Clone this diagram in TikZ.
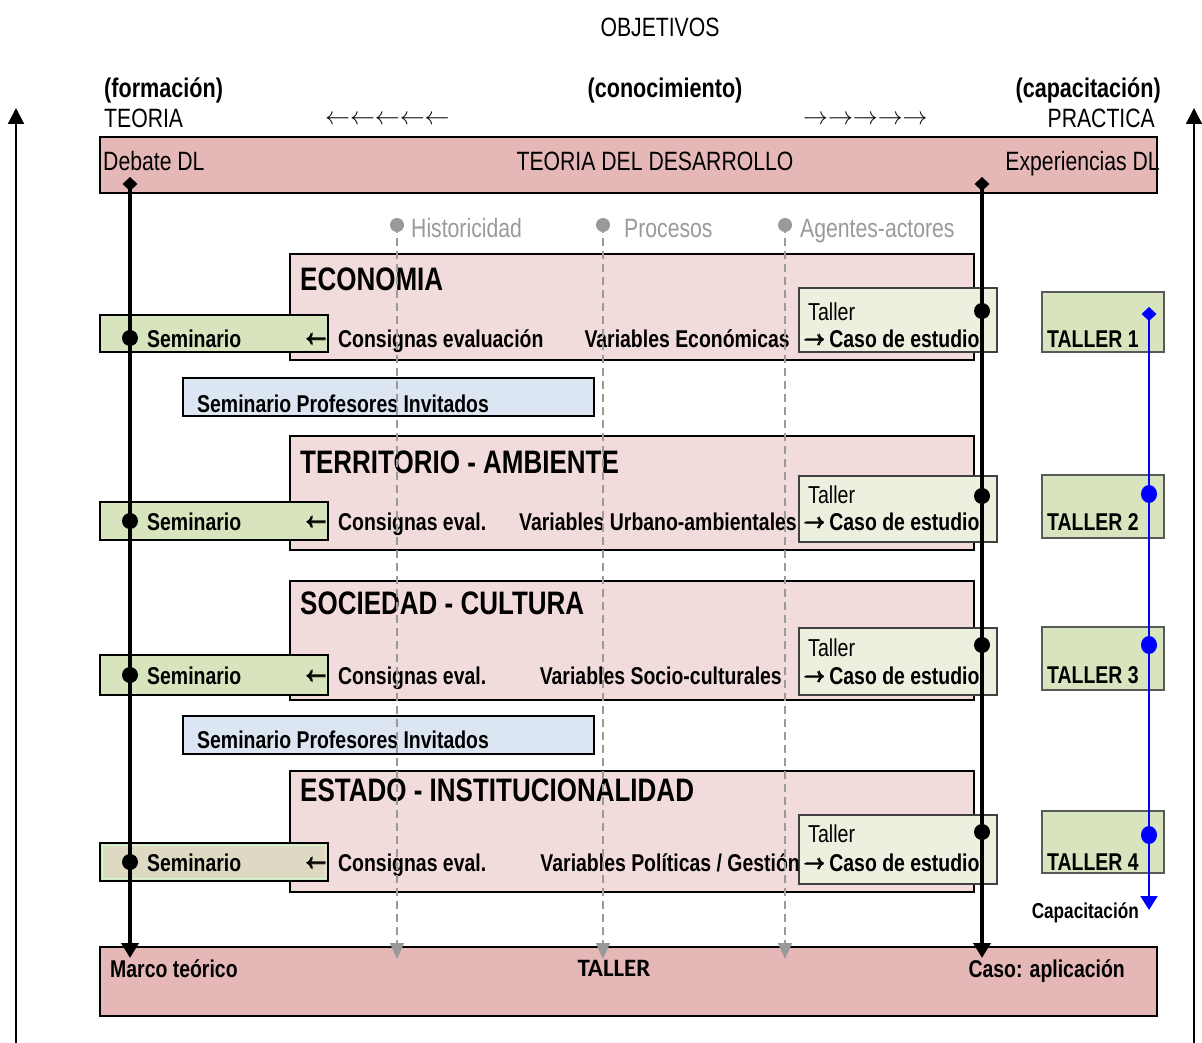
\documentclass[tikz,border=0pt]{standalone}
\usepackage{amsmath}
\usepackage{fontspec}
\setmainfont{Liberation Sans}[FakeStretch=0.8]
\newfontfamily\carl{Carlito}
\usetikzlibrary{arrows.meta}
\definecolor{barpink}{HTML}{E5B8B7}
\definecolor{blkpink}{HTML}{F2DCDB}
\definecolor{semgreen}{HTML}{D7E4BD}
\definecolor{tallight}{HTML}{EBF1DE}
\definecolor{profblue}{HTML}{DCE6F2}
\definecolor{semtan}{HTML}{DDD9C3}
\definecolor{grayc}{HTML}{9A9A9A}
\definecolor{dgray}{HTML}{404040}
\definecolor{mgray}{HTML}{595959}
\definecolor{palegreen}{HTML}{CCFFCC}
\newcommand\fsz[1]{\fontsize{#1}{#1}\selectfont}
\newcommand\thickglyph[1]{\leavevmode\rlap{#1}\kern0.7pt\rlap{#1}\kern0.7pt\rlap{#1}\raisebox{0.7pt}{\rlap{#1}}\raisebox{-0.7pt}{\rlap{#1}}\kern-1.4pt#1}
\newcommand\ra{\raisebox{2pt}{\fsz{22}\thickglyph{$\rightarrow$}}}
\newcommand\la{\fsz{22}\thickglyph{$\leftarrow$}}
\begin{document}
\begin{tikzpicture}[x=1pt,y=-1pt,
  box/.style={draw=black,line width=2pt,inner sep=0pt,outer sep=0pt,anchor=north west},
  barbox/.style={box,fill=barpink,line width=2.5pt},
  blkbox/.style={box,fill=blkpink},
  sembox/.style={box,fill=semgreen,minimum width=228pt},
  talbox/.style={box,draw=dgray,fill=tallight,minimum width=198pt},
  Tbox/.style={box,draw=mgray,fill=semgreen,minimum width=122pt},
  profbox/.style={box,fill=profblue,minimum width=411pt,minimum height=38pt},
  t/.style={inner sep=0pt,anchor=base west},
  tr/.style={inner sep=0pt,anchor=base east},
  tc/.style={inner sep=0pt,anchor=base},
  reg/.style={font=\fsz{26.5}},
  bl/.style={font=\bfseries\fsz{24.3}},
  tb/.style={font=\bfseries\fsz{27}},
  hd/.style={font=\bfseries\fsz{32.5}},
  gr/.style={font=\fsz{26.5},text=grayc},
  blkline/.style={line width=4.5pt,{Diamond[width=15pt,length=14pt]}-{Triangle[width=17pt,length=15pt]}},
  bluline/.style={blue,line width=2pt,{Diamond[width=15pt,length=14pt]}-{Triangle[width=17pt,length=14pt]}},
  dashline/.style={grayc,line width=2pt,dash pattern=on 8pt off 5pt,-{Triangle[width=14pt,length=16pt]}},
  thinarrow/.style={line width=2pt,-{Triangle[width=16pt,length=16pt]}}
]
\useasboundingbox (0,0) rectangle (1202,1043);

% ---------- bars ----------
\node[barbox,minimum width=1057pt,minimum height=56pt] (topbar) at (100,137) {};
\node[barbox,minimum width=1057pt,minimum height=69pt] (botbar) at (100,947) {};

% ---------- thematic blocks ----------
\node[blkbox,minimum width=684pt,minimum height=106pt] (eco) at (290,254) {};
\node[blkbox,minimum width=684pt,minimum height=114pt] (ter) at (290,436) {};
\node[blkbox,minimum width=684pt,minimum height=119pt] (soc) at (290,581) {};
\node[blkbox,minimum width=684pt,minimum height=121pt] (est) at (290,771) {};

% ---------- seminario boxes ----------
\node[sembox,minimum height=37pt] (sem1) at (100,315) {};
\node[sembox,minimum height=38pt] (sem2) at (100,502) {};
\node[sembox,minimum height=40pt] (sem3) at (100,655) {};
\node[sembox,fill=semtan,minimum height=38pt] (sem4) at (100,843) {};
\draw[palegreen,line width=1.5pt] (102.5,845.5) rectangle (325.5,878.5);

% ---------- taller boxes ----------
\node[talbox,minimum height=64pt] (tal1) at (799,288) {};
\node[talbox,minimum height=66pt] (tal2) at (799,476) {};
\node[talbox,minimum height=67pt] (tal3) at (799,628) {};
\node[talbox,minimum height=69pt] (tal4) at (799,815) {};

\node[Tbox,minimum height=60pt] (T1) at (1042,292) {};
\node[Tbox,minimum height=63pt] (T2) at (1042,475) {};
\node[Tbox,minimum height=63pt] (T3) at (1042,627) {};
\node[Tbox,minimum height=62pt] (T4) at (1042,811) {};

% ---------- invited professors ----------
\node[profbox] (prof1) at (183,378) {};
\node[profbox] (prof2) at (183,716) {};

% ---------- top texts ----------
\node[tc,font=\fsz{26.5}] (obj) at (660,36.5) {OBJETIVOS};
\node[t,tb] (form) at (104,98) {(formación)};
\node[tc,tb] (cono) at (665,98) {(conocimiento)};
\node[tr,tb] (capa) at (1161,98) {(capacitación)};
\node[t,reg] (teo) at (104,127.5) {TEORIA};
\node[tr,reg] (prac) at (1155,127.5) {PRACTICA};
\node[t,font=\fsz{25}] (larr) at (325,125) {$\leftarrow\leftarrow\leftarrow\leftarrow\leftarrow$};
\node[t,font=\fsz{25}] (rarr) at (803,125) {$\rightarrow\rightarrow\rightarrow\rightarrow\rightarrow$};
\node[t,reg] (debate) at (103,170.5) {Debate DL};
\node[tc,reg] (tdd) at (655,170.5) {TEORIA DEL DESARROLLO};
\node[tr,reg] (expe) at (1160,170.5) {Experiencias DL};

\node[t,gr] (hist) at (411,237.5) {Historicidad};
\node[t,gr] (proc) at (624,237.5) {Procesos};
\node[t,gr] (agen) at (800,237.5) {Agentes-actores};

% ---------- block headings ----------
\node[t,hd] (ecoh) at (300,290) {ECONOMIA};
\node[t,hd] (terh) at (300,473) {TERRITORIO - AMBIENTE};
\node[t,hd] (soch) at (300,614) {SOCIEDAD - CULTURA};
\node[t,hd] (esth) at (300,801) {ESTADO - INSTITUCIONALIDAD};

% ---------- row 1 ----------
\node[t,bl] (sem1t) at (147,347) {Seminario};
\node[tr] (sem1a) at (326,344.5) {\la};
\node[t,bl] (con1) at (338,347) {Consignas evaluación};
\node[tr,bl] (var1) at (790,347) {Variables Económicas};
\node[t,font=\fsz{24.5}] (tal1t) at (808,320) {Taller};
\node[t,bl] (caso1) at (803,347) {\ra\ Caso de estudio};
\node[t,bl] (T1t) at (1047,347) {TALLER 1};

\node[t,bl] (prof1t) at (197,412) {Seminario Profesores Invitados};

% ---------- row 2 ----------
\node[t,bl] (sem2t) at (147,530) {Seminario};
\node[tr] (sem2a) at (326,527.5) {\la};
\node[t,bl] (con2) at (338,530) {Consignas eval.};
\node[tr,bl] (var2) at (797,530) {Variables Urbano-ambientales};
\node[t,font=\fsz{24.5}] (tal2t) at (808,503) {Taller};
\node[t,bl] (caso2) at (803,530) {\ra\ Caso de estudio};
\node[t,bl] (T2t) at (1047,530) {TALLER 2};

% ---------- row 3 ----------
\node[t,bl] (sem3t) at (147,684) {Seminario};
\node[tr] (sem3a) at (326,681.5) {\la};
\node[t,bl] (con3) at (338,684) {Consignas eval.};
\node[tr,bl] (var3) at (782,684) {Variables Socio-culturales};
\node[t,font=\fsz{24.5}] (tal3t) at (808,656) {Taller};
\node[t,bl] (caso3) at (803,684) {\ra\ Caso de estudio};
\node[t,bl] (T3t) at (1047,683) {TALLER 3};

\node[t,bl] (prof2t) at (197,748) {Seminario Profesores Invitados};

% ---------- row 4 ----------
\node[t,bl] (sem4t) at (147,871) {Seminario};
\node[tr] (sem4a) at (326,868.5) {\la};
\node[t,bl] (con4) at (338,871) {Consignas eval.};
\node[tr,bl] (var4) at (800,871) {Variables Políticas / Gestión};
\node[t,font=\fsz{24.5}] (tal4t) at (808,842) {Taller};
\node[t,bl] (caso4) at (803,871) {\ra\ Caso de estudio};
\node[t,bl] (T4t) at (1047,870) {TALLER 4};

% ---------- bottom texts ----------
\node[tr,font=\bfseries\fsz{21.5}] (capt) at (1139,918) {Capacitación};
\node[t,bl] (marco) at (110,977) {Marco teórico};
\node[tc,font=\carl\bfseries\fsz{25}] (tallb) at (614,976.5) {TALLER};
\node[tr,bl] (caso) at (1125,977) {Caso: aplicación};

% ---------- dashed guide lines ----------
\coordinate (h0) at (397,225); \coordinate (h1) at (397,959);
\coordinate (p0) at (603,225); \coordinate (p1) at (603,959);
\coordinate (a0) at (785,225); \coordinate (a1) at (785,959);
\draw[dashline] (h0) -- (h1);
\draw[dashline] (p0) -- (p1);
\draw[dashline] (a0) -- (a1);
\fill[grayc] (h0) circle (7);
\fill[grayc] (p0) circle (7);
\fill[grayc] (a0) circle (7);

% ---------- thick black lines ----------
\coordinate (L0) at (130,177); \coordinate (L1) at (130,958);
\coordinate (R0) at (982,177); \coordinate (R1) at (982,958);
\draw[blkline] (L0) -- (L1);
\draw[blkline] (R0) -- (R1);
\foreach \n/\y in {1/338,2/521,3/675,4/862}{
  \coordinate (ls\n) at (130,\y);
  \fill (ls\n) circle (8);
}
\foreach \n/\y in {1/311,2/496,3/645,4/832}{
  \coordinate (rs\n) at (982,\y);
  \fill (rs\n) circle (8);
}

% ---------- blue capacitation line ----------
\coordinate (B0) at (1149,307); \coordinate (B1) at (1149,910);
\draw[bluline] (B0) -- (B1);
\foreach \n/\y in {2/494,3/645,4/835}{
  \coordinate (bd\n) at (1149,\y);
  \fill[blue] (bd\n) ellipse (8 and 9);
}

% ---------- outer thin arrows ----------
\coordinate (LA0) at (16,1043); \coordinate (LA1) at (16,108);
\coordinate (RA0) at (1194,1043); \coordinate (RA1) at (1194,108);
\draw[thinarrow] (LA0) -- (LA1);
\draw[thinarrow] (RA0) -- (RA1);
\end{tikzpicture}
\end{document}
